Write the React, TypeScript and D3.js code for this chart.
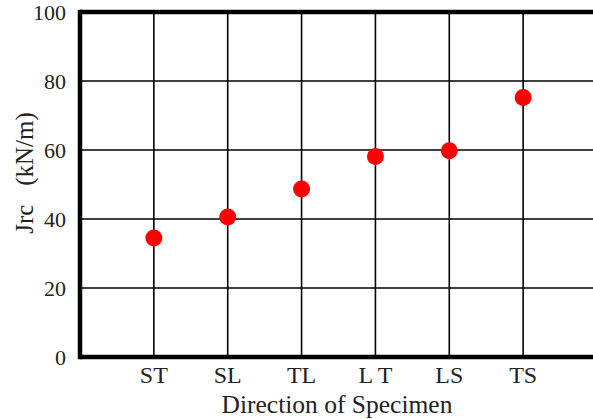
import React from "react";
import * as d3 from "d3";

const directions = ["ST", "SL", "TL", "LT", "LS", "TS"];
const jrcValues = [34.5, 40.6, 48.7, 58.1, 59.8, 75.2];
const yTicks = [0, 20, 40, 60, 80, 100];

const W = 593;
const H = 419;
const margin = { top: 12, right: -4, bottom: 62, left: 80 };

export default function App() {
  const x = d3
    .scalePoint<string>()
    .domain(["", ...directions, " "])
    .range([margin.left, W - margin.right]);
  const y = d3
    .scaleLinear()
    .domain([0, 100])
    .range([H - margin.bottom, margin.top]);

  const x0 = margin.left;
  const x1 = W - margin.right;
  const font = "Liberation Serif, Times New Roman, DejaVu Serif, serif";

  return (
    <svg
      width={W}
      height={H}
      style={{ position: "absolute", left: 0, top: 0, background: "#fff", fontFamily: font }}
    >
      {/* grid */}
      {yTicks.map((t) => (
        <line key={"h" + t} x1={x0} x2={x1} y1={y(t)} y2={y(t)} stroke="#000" strokeWidth={1.6} />
      ))}
      {directions.map((d) => (
        <line key={"v" + d} x1={x(d)} x2={x(d)} y1={y(0)} y2={y(100)} stroke="#000" strokeWidth={1.6} />
      ))}
      {/* thick frame */}
      <line x1={x0} x2={x1} y1={y(100)} y2={y(100)} stroke="#000" strokeWidth={4.5} />
      <line x1={x0} x2={x1} y1={y(0)} y2={y(0)} stroke="#000" strokeWidth={4.5} />
      <line x1={x0} x2={x0} y1={y(100) - 2.25} y2={y(0) + 2.25} stroke="#000" strokeWidth={4.5} />

      {/* points */}
      {directions.map((d, i) => (
        <circle key={"p" + d} cx={x(d)} cy={y(jrcValues[i])} r={8.5} fill="#ff0000" />
      ))}

      {/* y tick labels */}
      {yTicks.map((t) => (
        <text key={"yl" + t} x={66} y={y(t)} dy="0.35em" textAnchor="end" fontSize={22} fill="#222">
          {t}
        </text>
      ))}
      {/* x tick labels */}
      {directions.map((d) => (
        <text key={"xl" + d} x={x(d)} y={383} textAnchor="middle" fontSize={24} fill="#222">
          {d === "LT" ? "L T" : d}
        </text>
      ))}
      <text x={337} y={413} textAnchor="middle" fontSize={25.5} fill="#222">
        Direction of Specimen
      </text>
      <text
        transform={`translate(33, 173) rotate(-90)`}
        textAnchor="middle"
        fontSize={25}
        fill="#222"
        style={{ whiteSpace: "pre" }}
      >
        {"Jrc   (kN/m)"}
      </text>
    </svg>
  );
}
